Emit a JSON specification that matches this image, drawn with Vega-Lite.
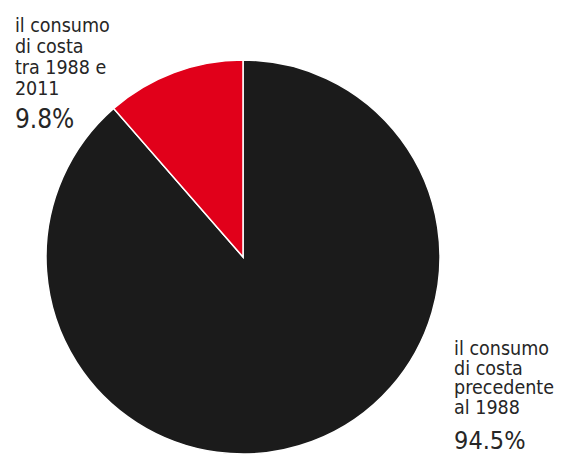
{
  "$schema": "https://vega.github.io/schema/vega-lite/v6.json",
  "width": 486,
  "height": 514,
  "padding": {"left": 0, "top": 0, "right": 77, "bottom": 0},
  "autosize": {"type": "none"},
  "background": "white",
  "config": {"view": {"stroke": null}},
  "data": {
    "values": [
      {"cat": "precedente", "ord": 1, "value": 88.6, "label": "il consumo\ndi costa\nprecedente\nal 1988", "pct": "94.5%"},
      {"cat": "nuovo", "ord": 2, "value": 11.4, "label": "il consumo\ndi costa\ntra 1988 e\n2011", "pct": "9.8%"}
    ]
  },
  "encoding": {
    "theta": {"field": "value", "type": "quantitative", "stack": true},
    "order": {"field": "ord", "type": "quantitative"}
  },
  "layer": [
    {
      "mark": {"type": "arc", "outerRadius": 197, "stroke": "white", "strokeWidth": 1.5},
      "encoding": {
        "color": {"field": "cat", "type": "nominal", "legend": null,
          "scale": {"domain": ["precedente", "nuovo"], "range": ["#1b1b1b", "#e1001a"]}}
      }
    },
    {
      "mark": {"type": "text", "radius": 200, "align": "left", "baseline": "alphabetic", "dx": -158, "dy": -38, "lineBreak": "\n", "lineHeight": 21, "font": "DejaVu Sans Condensed", "fontSize": 19.5, "color": "#262626"},
      "encoding": {"text": {"condition": {"test": "datum.cat === 'nuovo'", "field": "label"}, "value": ""}}
    },
    {
      "mark": {"type": "text", "radius": 200, "align": "left", "baseline": "alphabetic", "dx": -158, "dy": 58, "font": "DejaVu Sans Condensed", "fontSize": 26, "color": "#262626"},
      "encoding": {"text": {"condition": {"test": "datum.cat === 'nuovo'", "field": "pct"}, "value": ""}}
    },
    {
      "mark": {"type": "text", "radius": 200, "align": "left", "baseline": "alphabetic", "dx": 141, "dy": -89, "lineBreak": "\n", "lineHeight": 19.5, "font": "DejaVu Sans Condensed", "fontSize": 19.5, "color": "#262626"},
      "encoding": {"text": {"condition": {"test": "datum.cat === 'precedente'", "field": "label"}, "value": ""}}
    },
    {
      "mark": {"type": "text", "radius": 200, "align": "left", "baseline": "alphabetic", "dx": 141, "dy": 5, "font": "DejaVu Sans Condensed", "fontSize": 25, "color": "#262626"},
      "encoding": {"text": {"condition": {"test": "datum.cat === 'precedente'", "field": "pct"}, "value": ""}}
    }
  ]
}
